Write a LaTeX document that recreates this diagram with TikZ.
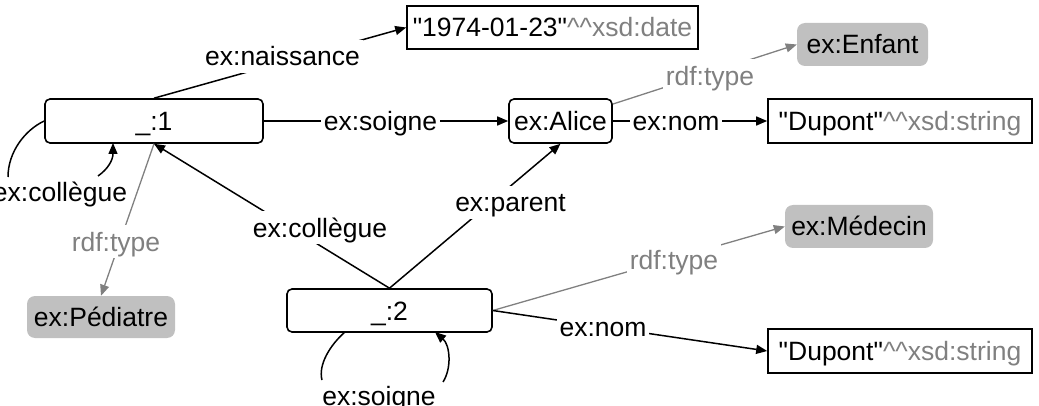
\documentclass[tikz,border=0pt]{standalone}
\usepackage{fontspec}
\setmainfont{Liberation Sans}[Ligatures=TeXOff]
\usetikzlibrary{arrows.meta}
\definecolor{lgray}{HTML}{808080}
\definecolor{cfill}{HTML}{C0C0C0}
\begin{document}
\begin{tikzpicture}[x=1pt,y=-1pt,
  every node/.style={font=\fontsize{26.5pt}{30pt}\selectfont, text height=19pt, text depth=0pt, inner sep=0pt},
  res/.style={draw, line width=1.6pt, rounded corners=5pt},
  lit/.style={draw, line width=1.6pt},
  cls/.style={fill=cfill, rounded corners=8pt},
  lbl/.style={fill=white, inner xsep=3pt, inner ysep=7pt},
  glbl/.style={lbl, text=lgray},
  plain/.style={inner sep=1pt},
  edge/.style={line width=1.5pt, -{Triangle[length=11pt,width=9pt]}},
  gedge/.style={line width=1.3pt, lgray, -{Triangle[length=11pt,width=9pt]}},
  line/.style={line width=1.5pt}
]
\useasboundingbox (0,0) rectangle (1039,406);

% nodes
\node[res, minimum width=218pt, minimum height=44pt] (n1) at (154,121) {\_:1};
\node[lit, minimum width=291pt, minimum height=43pt] (date) at (552.5,27.5) {"1974-01-23"\textcolor{lgray}{\textasciicircum\textasciicircum xsd:date}};
\node[cls, minimum width=131pt, minimum height=43pt] (enf) at (862.5,44.5) {ex:Enfant};
\node[res, minimum width=103pt, minimum height=44pt] (alice) at (560.5,121) {ex:Alice};
\node[lit, minimum width=264pt, minimum height=44pt] (dup1) at (900,121) {"Dupont"\textcolor{lgray}{\textasciicircum\textasciicircum xsd:string}};
\node[cls, minimum width=148pt, minimum height=42pt] (ped) at (101,317) {ex:Pédiatre};
\node[res, minimum width=205pt, minimum height=43pt] (n2) at (389.5,310.5) {\_:2};
\node[cls, minimum width=148pt, minimum height=43pt] (med) at (859,226.5) {ex:Médecin};
\node[lit, minimum width=264pt, minimum height=44pt] (dup2) at (900,351) {"Dupont"\textcolor{lgray}{\textasciicircum\textasciicircum xsd:string}};

% edges
\draw[edge] (n1.north) -- (date.west);
\draw[edge] (n1.east) -- (alice.west);
\draw[gedge] (alice) -- (enf.west);
\draw[edge] (alice.east) -- (dup1.west);
\draw[gedge] (n1.south) -- (ped.north);
\draw[edge] (n2.north) -- (n1.south);
\draw[edge] (n2.north) -- (alice.south);
\draw[gedge] (n2.east) -- (med.west);
\draw[edge] (n2.east) -- (dup2.west);

% self loops
\coordinate (l1a) at (8,177);
\coordinate (l1b) at (98,176);
\coordinate (l1c) at (113,143);
\draw[line] (n1.west) .. controls (25,130) and (8,152) .. (l1a);
\draw[edge] (l1b) .. controls (108,169) and (113,160) .. (l1c);

\coordinate (l2a) at (345,332);
\coordinate (l2b) at (322,380);
\coordinate (l2c) at (443,382);
\coordinate (l2d) at (435,332);
\draw[line] (l2a) .. controls (330,345) and (318,365) .. (l2b);
\draw[edge] (l2c) .. controls (452,368) and (450,345) .. (l2d);

% labels
\node[lbl] (lnais) at (282.5,56.5) {ex:naissance};
\node[lbl] (lsoi1) at (380.5,121.5) {ex:soigne};
\node[glbl] (lty1) at (710,76) {rdf:type};
\node[lbl] (lnom1) at (676,121.5) {ex:nom};
\node[plain] (lcol1) at (60,192) {ex:collègue};
\node[glbl] (lty2) at (116,242) {rdf:type};
\node[lbl] (lcol2) at (320,227.5) {ex:collègue};
\node[lbl] (lpar) at (510.5,202.5) {ex:parent};
\node[glbl] (lty3) at (674,260) {rdf:type};
\node[lbl] (lnom2) at (603,326.5) {ex:nom};
\node[plain] (lsoi2) at (379,396) {ex:soigne};
\end{tikzpicture}
\end{document}
